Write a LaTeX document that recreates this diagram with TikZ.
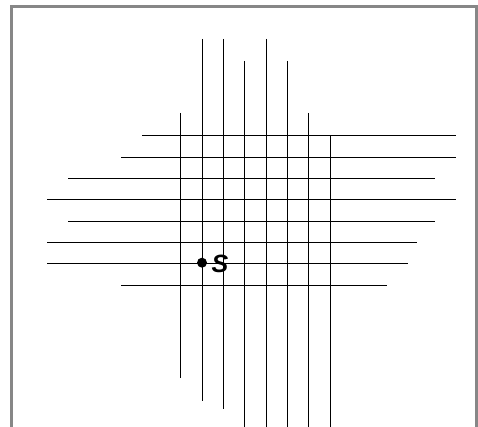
\documentclass[tikz,border=0pt]{standalone}
\usepackage{fontspec}
\setmainfont{Liberation Sans}
\begin{document}
\begin{tikzpicture}[x=1pt,y=-1pt,
  frame/.style={draw=black!47,line width=2.8pt},
  gline/.style={draw=black,line width=1pt},
  dotmark/.style={circle,fill=black,inner sep=0pt,minimum size=10pt},
  lbl/.style={font=\fontsize{25}{25}\selectfont\bfseries\itshape,inner sep=0pt}]
\useasboundingbox (0,0) rectangle (478,427);
\draw[frame] (11.5,440) -- (11.5,6.2) -- (476.6,6.2) -- (476.6,440);
% vertical lines
\coordinate (v1t) at (180.5,113); \coordinate (v1b) at (180.5,378);
\coordinate (v2t) at (202.5,39);  \coordinate (v2b) at (202.5,400.7);
\coordinate (v3t) at (223.5,39);  \coordinate (v3b) at (223.5,408.7);
\coordinate (v4t) at (244.5,61);  \coordinate (v4b) at (244.5,430);
\coordinate (v5t) at (266.5,39);  \coordinate (v5b) at (266.5,430);
\coordinate (v6t) at (287.5,61);  \coordinate (v6b) at (287.5,430);
\coordinate (v7t) at (308.5,113); \coordinate (v7b) at (308.5,430);
\coordinate (v8t) at (330.5,135.5); \coordinate (v8b) at (330.5,430);
\foreach \i in {1,...,8} \draw[gline] (v\i t) -- (v\i b);
% horizontal lines
\coordinate (h1l) at (142,135.5);  \coordinate (h1r) at (455.7,135.5);
\coordinate (h2l) at (121,157.5);  \coordinate (h2r) at (455.7,157.5);
\coordinate (h3l) at (68,178.5);   \coordinate (h3r) at (434.7,178.5);
\coordinate (h4l) at (47,199.5);   \coordinate (h4r) at (455.7,199.5);
\coordinate (h5l) at (68,221.5);   \coordinate (h5r) at (434.7,221.5);
\coordinate (h6l) at (47,242.5);   \coordinate (h6r) at (416.7,242.5);
\coordinate (h7l) at (47,263.5);   \coordinate (h7r) at (407.7,263.5);
\coordinate (h8l) at (121,285.5);  \coordinate (h8r) at (386.7,285.5);
\foreach \i in {1,...,8} \draw[gline] (h\i l) -- (h\i r);
% source point
\node[dotmark] (s) at (202,262.7) {};
\node[lbl,anchor=base west] (slbl) at (211.5,272.8) {S};
\end{tikzpicture}
\end{document}
